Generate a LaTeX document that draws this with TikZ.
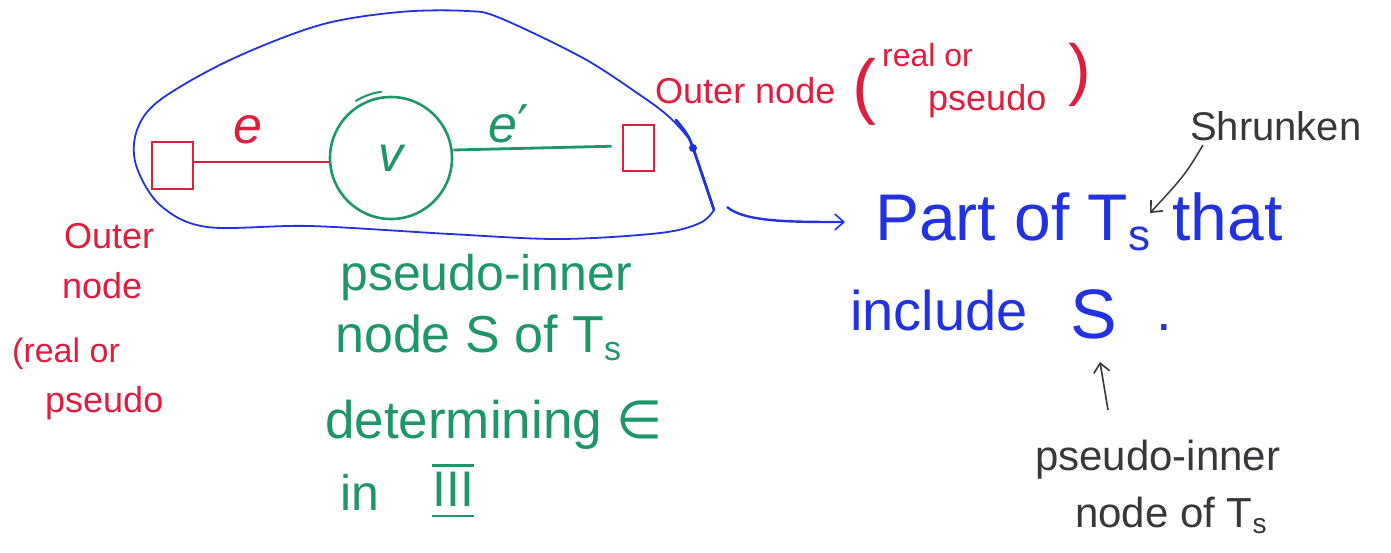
\documentclass[tikz,border=0pt]{standalone}
\usepackage{fontspec}
\setmainfont{Liberation Sans}
\newfontfamily\dejavu{DejaVu Sans}
\usetikzlibrary{arrows.meta}
\definecolor{pred}{RGB}{222,30,62}
\definecolor{pgreen}{RGB}{30,150,105}
\definecolor{pblue}{RGB}{35,50,225}
\definecolor{pblack}{RGB}{55,55,60}
\newcommand\fsz[1]{\fontsize{#1}{#1}\selectfont}
\newcommand\Tsub[1]{T\raisebox{-0.3ex}{\fontsize{#1}{#1}\selectfont s}}
\tikzset{
  txt/.style={inner sep=0pt, anchor=base west},
  redtxt/.style={txt, text=pred},
  greentxt/.style={txt, text=pgreen},
  bluetxt/.style={txt, text=pblue},
  blacktxt/.style={txt, text=pblack},
  redsq/.style={draw=pred, line width=2.6pt, inner sep=0pt},
  hand arrow/.style={-{Straight Barb[length=9pt,width=16pt,line width=1.6pt]}},
}
\begin{document}
\begin{tikzpicture}[x=1pt,y=-1pt]
\useasboundingbox (0,0) rectangle (1391,552);
\fill[white] (0,0) rectangle (1391,552);

% blob
\draw[pblue, line width=1.8pt, line join=round] plot[smooth, tension=0.55] coordinates {
  (714,210) (700,223) (660,233) (560,239) (450,234) (310,226) (207,227)
  (160,205) (136,165) (137,130) (160,100) (230,60) (320,25) (400,12)
  (467,11) (500,18) (583,58) (640,95) (667,115) (686,135) (693,148) (714,210)};
\draw[pblue, line width=2.8pt, line cap=round] plot[smooth, tension=0.55] coordinates {(676,120) (686,133) (693,148) (714,210)};
\fill[pblue] (693,148) circle (4);
\coordinate (cusp) at (714,210);

% graph
\node[redsq, minimum width=41pt, minimum height=47pt] (L) at (172.5,165.5) {};
\node[redsq, minimum width=31pt, minimum height=46pt] (R) at (638.5,148) {};
\node[draw=pgreen, line width=2.6pt, circle, minimum size=122pt, inner sep=0pt,
      text=pgreen, font=\fsz{50}\itshape] (v) at (391,158) {v};
\draw[pgreen, line width=2pt] (v.center) ++(238:67) arc (238:262:67);
\draw[pred, line width=2.8pt] (L.east |- 0,162) -- (v.west |- 0,162);
\draw[pgreen, line width=2.8pt, shorten >=10pt] (v.east |- 0,150) -- (R.west |- 0,146);
\node[redtxt, font=\fsz{52}\itshape] (le) at (233,143) {e};
\node[greentxt, font=\fsz{52}\itshape] (lep) at (488,142) {e{\upshape\dejavu\fsz{52}′}};

% red labels
\node[redtxt, font=\fsz{36}] (on1) at (655,103) {Outer node};
\node[redtxt, font=\fsz{72}] (op1) at (852,110) {(};
\node[redtxt, font=\fsz{32}] (ro1) at (882,66) {real or};
\node[redtxt, font=\fsz{36}] (ps1) at (928,110) {pseudo};
\node[redtxt, font=\fsz{68}] (cp1) at (1068,92) {)};

\node[redtxt, font=\fsz{36}] (on2) at (64,248) {Outer};
\node[redtxt, font=\fsz{36}] (nd2) at (62,298) {node};
\node[redtxt, font=\fsz{34}] (ro2) at (12,362) {(real or};
\node[redtxt, font=\fsz{36}] (ps2) at (45,412) {pseudo};

% green labels
\node[greentxt, font=\fsz{50}] (g1) at (340,290) {pseudo-inner};
\node[greentxt, font=\fsz{52}] (g2) at (335,352) {node S of \Tsub{34}};
\node[greentxt, font=\fsz{53}] (g3) at (325,438) {determining {\dejavu ∈}};
\node[greentxt, font=\fsz{50}] (g4) at (340,510) {in};
\node[greentxt, font=\fsz{50}] (g5) at (432,506) {III};
\draw[pgreen, line width=2.4pt] ([yshift=6pt]g5.north west) -- ([yshift=6pt]g5.north east);
\draw[pgreen, line width=2.4pt] ([yshift=-10pt]g5.base west) -- ([yshift=-10pt]g5.base east);

% blue labels
\node[bluetxt, font=\fsz{66}] (b1) at (875,240) {Part of \Tsub{44}\,\,that};
\node[bluetxt, font=\fsz{56}] (b2) at (850,330) {include};
\node[bluetxt, font=\fsz{70}] (b3) at (1070,338) {S};
\node[bluetxt, font=\fsz{56}] (b4) at (1156,330) {.};
\coordinate (bs) at (727,207);
\coordinate (be) at (845,222);
\draw[pblue, line width=2.4pt, hand arrow] (bs) .. controls (745,222) and (790,222) .. (be);

% black labels
\node[blacktxt, font=\fsz{40}] (k1) at (1190,140) {Shrunken};
\node[blacktxt, font=\fsz{42}] (k2) at (1035,470) {pseudo-inner};
\node[blacktxt, font=\fsz{42}] (k3) at (1075,527) {node of \Tsub{28}};
\coordinate (ks) at (1203,145);
\coordinate (ke) at (1150,213);
\draw[pblack, line width=1.5pt, hand arrow] (ks) .. controls (1185,175) .. (ke);
\coordinate (us) at (1108,410);
\coordinate (ue) at (1100,362);
\draw[pblack, line width=1.6pt, hand arrow] (us) -- (ue);
\end{tikzpicture}
\end{document}
